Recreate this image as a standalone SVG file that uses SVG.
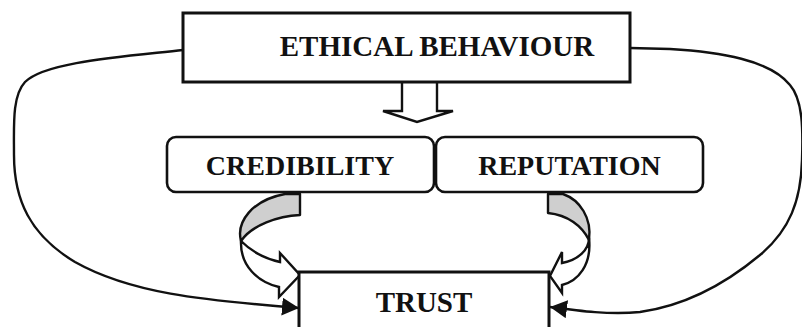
<svg xmlns="http://www.w3.org/2000/svg" width="802" height="327" viewBox="0 0 802 327">
<style>
.box{fill:#fff;stroke:#111;stroke-width:3}
.rbox{fill:#fff;stroke:#111;stroke-width:2.6}
.lbl{font-family:"Liberation Serif","Times New Roman",serif;font-weight:bold;fill:#111;text-anchor:middle}
.conn{fill:none;stroke:#111;stroke-width:2.4}
.back{fill:#cfcfcf;stroke:#111;stroke-width:2.4;stroke-linejoin:round}
.front{fill:#fff;stroke:#111;stroke-width:2.4;stroke-linejoin:miter}
</style>
<defs>
<marker id="ah" markerUnits="userSpaceOnUse" markerWidth="18" markerHeight="20" refX="17" refY="9" orient="auto">
<path d="M0,0 L17,9 L0,18 Z" fill="#111"/>
</marker>
</defs>
<rect width="802" height="327" fill="#fff"/>
<g id="connectors">
<path class="conn" d="M183,50 C120,57 45,62 25,82 C12,96 14,125 14,155 C14,200 30,235 75,262 C130,293 200,300 299,308" marker-end="url(#ah)"/>
<path class="conn" d="M630,48 L670,49 C720,52 770,60 790,85 C803,100 803,130 802,160 C801,200 790,230 760,255 C730,280 690,305 640,312 C610,315 580,311 550,307" marker-end="url(#ah)"/>
<path class="front" d="M402,82 L402,111 L383,111 L417,122 L453,111 L437,111 L437,82" stroke-width="3"/>
<path class="back" d="M285,194 L300,194 L300,215 C278,216 252,225 241,241 C236,222 252,200 285,194 Z"/>
<path class="front" d="M241,241 C252,252 266,259 280,262 L280,253 L300,275 L279,297 L279,287 C258,282 240,266 241,241 Z"/>
<path class="back" d="M548,194 L563,194 C580,200 592,218 589,240 C582,226 568,215 548,213 Z"/>
<path class="front" d="M589,238 C589,250 578,260 562,263 L562,252 L550,276 L562,293 L562,285 C578,281 592,265 589,238 Z"/>
</g>
<g id="ethical">
<rect class="box" x="183" y="13" width="447" height="69"/>
<text class="lbl" x="437" y="56" font-size="29">ETHICAL BEHAVIOUR</text>
</g>
<g id="credibility">
<rect class="rbox" x="167" y="137" width="267" height="55" rx="9"/>
<text class="lbl" x="300" y="175" font-size="28">CREDIBILITY</text>
</g>
<g id="reputation">
<rect class="rbox" x="436" y="137" width="267" height="55" rx="9"/>
<text class="lbl" x="569.5" y="175" font-size="28">REPUTATION</text>
</g>
<g id="trust">
<rect class="box" x="299" y="272" width="250" height="70"/>
<text class="lbl" x="424" y="312" font-size="29">TRUST</text>
</g>
</svg>
